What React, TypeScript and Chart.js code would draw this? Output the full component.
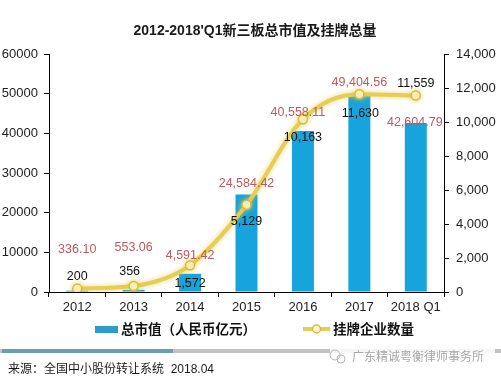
import React, { useEffect, useRef } from 'react';
import { Chart, registerables } from 'chart.js';

Chart.register(...registerables);

// ---- data ----
const categories = ['2012', '2013', '2014', '2015', '2016', '2017', '2018 Q1'];
const marketValue = [336.10, 553.06, 4591.42, 24584.42, 40558.11, 49404.56, 42604.79];
const listedCount = [200, 356, 1572, 5129, 10163, 11630, 11559];
const leftAxisMax = 60000;
const leftAxisStep = 10000;
const rightAxisMax = 14000;
const rightAxisStep = 2000;
const titleText = "2012-2018'Q1新三板总市值及挂牌总量";
const barLegend = '总市值（人民币亿元）';
const lineLegend = '挂牌企业数量';
const sourceText = '来源：全国中小股份转让系统  2018.04';
const watermarkText = '广东精诚粤衡律师事务所';

// ---- label placement (style) ----
const barLabelDy = [-41, -42, -18, -11, -19, -13, 0];
const barLabelDx = [0, 0, 0, 0, -5, 0, -1];
const lineLabelDy = [-12, -14, 18, 17, 18, 19, -12];
const lineLabelDx = [0, -4, 0, 0, 0, 1, 0];

const FONT = '"Liberation Sans", Arial, "Noto Sans CJK SC", sans-serif';
const CJK = '"Liberation Sans", "Noto Sans CJK SC", sans-serif';
const BAR_COLOR = '#17A3DC';
const LINE_COLOR = '#E6CD55';

const overlay = {
  id: 'overlay',
  beforeDatasetDraw(chart: any, args: any) {
    if (args.index === 1) {
      const c = chart.ctx;
      c.save();
      c.shadowColor = 'rgba(230,200,70,0.75)';
      c.shadowBlur = 5;
    }
  },
  afterDatasetDraw(chart: any, args: any) {
    if (args.index === 1) chart.ctx.restore();
  },
  afterDatasetsDraw(chart: any) {
    const c = chart.ctx;
    const barMeta = chart.getDatasetMeta(0);
    const lineMeta = chart.getDatasetMeta(1);
    c.save();
    c.font = `12.5px ${FONT}`;
    c.textAlign = 'center';
    c.textBaseline = 'middle';
    barMeta.data.forEach((el: any, i: number) => {
      const txt = marketValue[i].toLocaleString('en-US', { minimumFractionDigits: 2, maximumFractionDigits: 2 });
      c.fillStyle = '#BE5A60';
      c.fillText(txt, el.x + barLabelDx[i], el.y + barLabelDy[i]);
    });
    lineMeta.data.forEach((el: any, i: number) => {
      const txt = listedCount[i].toLocaleString('en-US');
      c.fillStyle = '#111';
      c.fillText(txt, el.x + lineLabelDx[i], el.y + lineLabelDy[i]);
    });
    c.restore();
  },
  afterDraw(chart: any) {
    const c = chart.ctx;
    c.save();
    // title
    c.fillStyle = '#1a1a1a';
    c.font = `bold 14px ${CJK}`;
    c.textAlign = 'center';
    c.textBaseline = 'middle';
    c.fillText(titleText, 255, 31);

    // legend
    c.fillStyle = '#2E9CC8';
    c.fillRect(95, 326, 23, 7);
    c.font = `bold 13.5px ${CJK}`;
    c.textAlign = 'left';
    c.fillStyle = '#111';
    c.fillText(barLegend, 121, 330);

    c.strokeStyle = LINE_COLOR;
    c.lineWidth = 4;
    c.beginPath();
    c.moveTo(303, 329);
    c.lineTo(330, 329);
    c.stroke();
    c.beginPath();
    c.arc(316.5, 329, 4, 0, Math.PI * 2);
    c.fillStyle = '#FFF6C8';
    c.fill();
    c.lineWidth = 1.5;
    c.strokeStyle = '#D4BC44';
    c.stroke();
    c.fillStyle = '#111';
    c.fillText(lineLegend, 333, 330);

    // divider strip
    c.fillStyle = '#C2C2C2';
    c.fillRect(0, 349, 501, 4);
    c.fillStyle = '#6A9FB3';
    c.fillRect(2, 349, 171, 4);

    // watermark
    c.fillStyle = 'rgba(255,255,255,0.85)';
    c.fillRect(330, 348, 165, 18);
    c.strokeStyle = '#B5B5B5';
    c.lineWidth = 1;
    c.beginPath();
    c.arc(335, 355, 5, 0, Math.PI * 2);
    c.stroke();
    c.beginPath();
    c.arc(341, 359, 4, 0, Math.PI * 2);
    c.stroke();
    c.fillStyle = '#A8A8A8';
    c.font = `12px ${CJK}`;
    c.fillText(watermarkText, 352, 358);

    // source
    c.fillStyle = '#1a1a1a';
    c.font = `12px ${CJK}`;
    c.fillText(sourceText, 8, 370);
    c.restore();
  },
};

export default function App() {
  const ref = useRef<HTMLCanvasElement>(null);
  useEffect(() => {
    if (!ref.current) return;
    const chart = new Chart(ref.current, {
      type: 'bar',
      data: {
        labels: categories,
        datasets: [
          {
            type: 'bar',
            label: barLegend,
            data: marketValue,
            yAxisID: 'y',
            backgroundColor: BAR_COLOR,
            categoryPercentage: 1,
            barPercentage: 0.39,
            order: 1,
          } as any,
          {
            type: 'line',
            label: lineLegend,
            data: listedCount,
            yAxisID: 'y1',
            borderColor: LINE_COLOR,
            borderWidth: 4,
            pointRadius: 4.5,
            pointBackgroundColor: '#FFF6C8',
            pointBorderColor: '#D4BC44',
            pointBorderWidth: 1.5,
            cubicInterpolationMode: 'monotone',
            order: 0,
          } as any,
        ],
      },
      options: {
        animation: false,
        responsive: false,
        devicePixelRatio: 1,
        layout: { padding: { top: 54, left: 0, right: 0, bottom: 62 } },
        plugins: {
          legend: { display: false },
          title: { display: false },
          tooltip: { enabled: false },
        },
        scales: {
          x: {
            offset: true,
            grid: { drawOnChartArea: false, drawTicks: true, tickLength: 5, color: '#000', offset: true },
            border: { color: '#000', width: 1 },
            ticks: { font: { size: 13, family: FONT }, color: '#222', padding: 3, maxRotation: 0, autoSkip: false },
            afterFit: (s: any) => { s.height = 24; },
          },
          y: {
            position: 'left',
            min: 0,
            max: leftAxisMax,
            grid: { drawOnChartArea: false, drawTicks: true, tickLength: 5, color: '#000' },
            border: { color: '#000', width: 1 },
            ticks: {
              stepSize: leftAxisStep,
              font: { size: 13, family: FONT },
              color: '#222',
              padding: 6,
              callback: (v: any) => String(v),
            },
            afterFit: (s: any) => { s.width = 49; },
          },
          y1: {
            position: 'right',
            min: 0,
            max: rightAxisMax,
            grid: { drawOnChartArea: false, drawTicks: true, tickLength: 5, color: '#000' },
            border: { color: '#000', width: 1 },
            ticks: {
              stepSize: rightAxisStep,
              font: { size: 13, family: FONT },
              color: '#222',
              padding: 7,
              callback: (v: any) => Number(v).toLocaleString('en-US'),
            },
            afterFit: (s: any) => { s.width = 57; },
          },
        },
      } as any,
      plugins: [overlay],
    });
    return () => chart.destroy();
  }, []);
  return (
    <div style={{ position: 'absolute', left: 0, top: 0, width: 501, height: 378, background: '#fff' }}>
      <canvas ref={ref} width={501} height={378} style={{ width: 501, height: 378, display: 'block' }} />
    </div>
  );
}
